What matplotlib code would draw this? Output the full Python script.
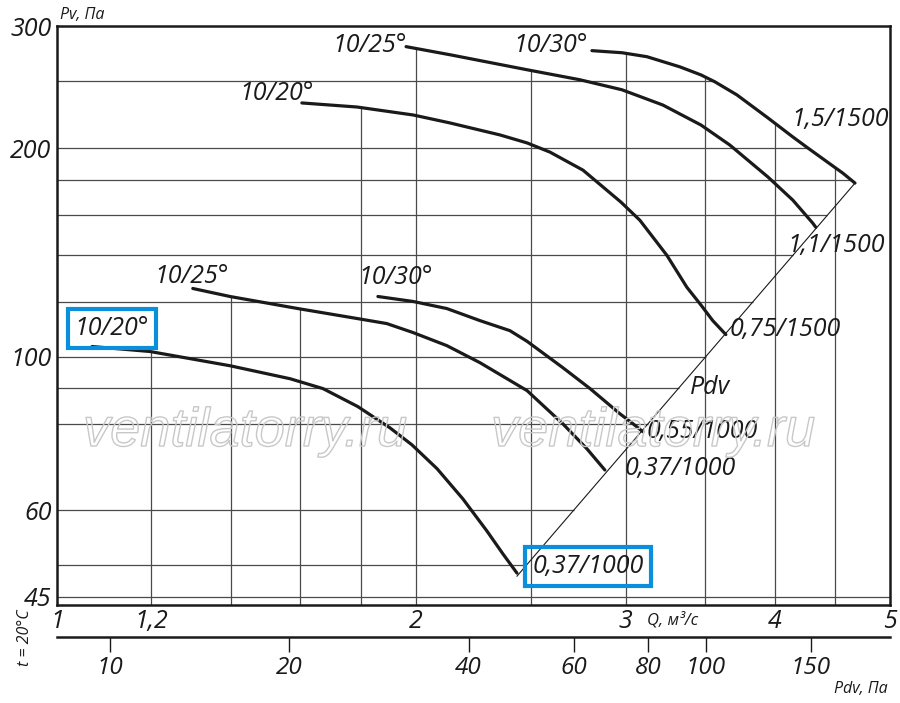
import numpy as np
import matplotlib
matplotlib.use("Agg")
import matplotlib.pyplot as plt
from matplotlib import patheffects as pe
from matplotlib.ticker import NullLocator, FixedLocator, FixedFormatter

plt.rcParams['font.family'] = ['Open Sans', 'DejaVu Sans']
plt.rcParams['font.style'] = 'italic'

# ---------------- data ----------------
# lower group (n = 1000)
q_a = [1.070, 1.197, 1.397, 1.569, 1.672, 1.788, 1.903, 1.985, 2.084, 2.191, 2.295, 2.367, 2.432]
pv_a = [103.4, 101.7, 97.0, 92.9, 89.9, 84.7, 78.9, 74.6, 68.9, 62.3, 56.0, 51.9, 48.7]

q_b = [1.300, 1.397, 1.593, 1.785, 1.891, 1.990, 2.124, 2.264, 2.480, 2.657, 2.784, 2.882]
pv_b = [125.4, 122.1, 117.3, 113.5, 111.6, 108.3, 103.7, 98.0, 89.3, 80.0, 73.6, 68.6]

q_c = [1.859, 1.990, 2.124, 2.264, 2.399, 2.480, 2.657, 2.801, 2.967, 3.043, 3.102]
pv_c = [122.1, 120.1, 117.3, 112.7, 109.0, 105.2, 96.4, 89.9, 82.7, 80.0, 77.9]

# upper group (n = 1500)
q_d = [1.605, 1.785, 1.990, 2.136, 2.353, 2.480, 2.592, 2.763, 2.973, 3.084, 3.249, 3.377,
       3.470, 3.550, 3.641]
pv_d = [232.3, 229.2, 223.2, 217.4, 208.9, 203.4, 197.3, 185.8, 167.1, 157.3, 140.0, 125.9,
        118.7, 112.7, 107.6]

q_e = [1.963, 2.136, 2.480, 2.747, 2.979, 3.224, 3.470, 3.669, 3.950, 4.144, 4.307, 4.332]
pv_e = [280.1, 272.7, 259.4, 250.9, 242.7, 230.7, 215.9, 202.0, 181.6, 168.2, 155.8, 153.7]

q_f = [2.811, 2.979, 3.126, 3.332, 3.470, 3.565, 3.720, 3.950, 4.144, 4.258, 4.443, 4.564, 4.673]
pv_f = [276.4, 274.5, 270.9, 261.9, 255.0, 249.2, 238.6, 221.0, 207.5, 200.5, 190.2, 184.0, 178.0]

angle_labels = ['10/20°', '10/25°', '10/30°', '10/20°', '10/25°', '10/30°']
motor_labels = ['0,37/1000', '0,37/1000', '0,55/1000', '0,75/1500', '1,1/1500', '1,5/1500']

pdv_coef = 8.15            # Pdv = coef * Q^2
pdv_ticks = [10, 20, 40, 60, 80, 100, 150]

q_ticks = [1, 1.2, 2, 3, 4, 5]
q_tick_labels = ['1', '1,2', '2', '3', '4', '5']
pv_ticks = [45, 60, 100, 200, 300]
pv_tick_labels = ['45', '60', '100', '200', '300']

q_grid = [1.2, 1.4, 1.6, 1.8, 2, 2.5, 3, 3.5, 4, 4.5]
pv_grid = [45, 50, 60, 80, 90, 100, 120, 140, 160, 180, 200, 250]

# ---------------- figure ----------------
W, H = 900, 703
fig = plt.figure(figsize=(W / 100, H / 100), dpi=100)
fig.patch.set_facecolor('white')

def fx(px):
    return px / W

def fy(py):
    return 1 - py / H

L, R, T, B = 57, 890, 26, 605
ax = fig.add_axes([fx(L), fy(B), (R - L) / W, (B - T) / H])
ax.set_xscale('log')
ax.set_yscale('log')
ax.set_xlim(1, 5)
ax.set_ylim(43.8, 300)

for s in ax.spines.values():
    s.set_linewidth(1.8)
    s.set_color('#1a1a1a')

ax.xaxis.set_minor_locator(NullLocator())
ax.yaxis.set_minor_locator(NullLocator())
ax.xaxis.set_major_locator(FixedLocator(q_ticks))
ax.xaxis.set_major_formatter(FixedFormatter(q_tick_labels))
ax.yaxis.set_major_locator(FixedLocator(pv_ticks))
ax.yaxis.set_major_formatter(FixedFormatter(pv_tick_labels))
ax.tick_params(axis='both', length=0, labelsize=18, colors='#1a1a1a')
ax.tick_params(axis='x', pad=3)
ax.tick_params(axis='y', pad=4)
for lab in ax.get_xticklabels() + ax.get_yticklabels():
    lab.set_fontstyle('italic')

curves = [(q_a, pv_a), (q_b, pv_b), (q_c, pv_c), (q_d, pv_d), (q_e, pv_e), (q_f, pv_f)]

# ---- clipped grid ----
def curve_at(lq_val, qs, ps):
    lq = np.log10(qs)
    if lq_val < lq[0] - 1e-9 or lq_val > lq[-1] + 1e-9:
        return None
    return 10 ** np.interp(lq_val, lq, np.log10(ps))

ylo = ax.get_ylim()[0]
for qg in q_grid:
    tops = [curve_at(np.log10(qg), qs, ps) for qs, ps in curves]
    tops = [t for t in tops if t is not None]
    top = max(tops) if tops else ax.get_ylim()[1]
    ax.vlines(qg, ylo, top, colors='#4a4a4a', linewidth=0.9, zorder=1)

q_diag_lo, q_diag_hi = q_a[-1], q_f[-1]
pv_diag_lo = pdv_coef * q_diag_lo ** 2
pv_f_end = pv_f[-1]
for pg in pv_grid:
    if pg > pv_f_end:
        lq = np.log10(q_f)[::-1]
        lp = np.log10(pv_f)[::-1]
        right = 10 ** np.interp(np.log10(pg), lp, lq)
    elif pg >= pv_diag_lo:
        right = np.sqrt(pg / pdv_coef)
    else:
        right = ax.get_xlim()[1]
    ax.hlines(pg, 1, right, colors='#4a4a4a', linewidth=0.9, zorder=1)

# ---- watermark ----
for cx in (245, 653):
    fig.text(fx(cx), fy(432), 'ventilatorry.ru', fontsize=39, family='Liberation Sans',
             style='italic', color='none', ha='center', va='center', zorder=2,
             path_effects=[pe.Stroke(linewidth=1.0, foreground='#c8c8c8')])

# ---- Pdv diagonal ----
qd = np.array([q_diag_lo, q_diag_hi])
ax.plot(qd, pdv_coef * qd ** 2, color='#1a1a1a', linewidth=0.8, zorder=3)

# ---- curves ----
for qs, ps in curves:
    ax.plot(qs, ps, color='#1a1a1a', linewidth=2.3, solid_capstyle='round',
            solid_joinstyle='round', zorder=4)

# ---- curve labels ----
start_offsets = [(20, 18), (-1, 12), (18, 19), (-25, 9), (-36, 1), (-41, 5)]
end_offsets = [(71, 7), (75, 1), (59, 0), (59, 5), (20, -18), (-15, 64)]
blue = '#0a8fdc'
for i, (qs, ps) in enumerate(curves):
    kw = {}
    if i == 0:
        kw = dict(bbox=dict(boxstyle='square,pad=0.28', fc='none', ec=blue, lw=3))
    ax.annotate(angle_labels[i], xy=(qs[0], ps[0]), xytext=start_offsets[i],
                textcoords='offset pixels', ha='center', va='center', fontsize=18,
                style='italic', color='#1a1a1a', zorder=5, **kw)
    ax.annotate(motor_labels[i], xy=(qs[-1], ps[-1]), xytext=end_offsets[i],
                textcoords='offset pixels', ha='center', va='center', fontsize=18,
                style='italic', color='#1a1a1a', zorder=5, **kw)

# ---- secondary Pdv axis ----
ax2 = fig.add_axes([fx(L), fy(637), (R - L) / W, 1e-5])
ax2.set_xscale('log')
ax2.set_xlim(1, 5)
ax2.set_yticks([])
for side in ('top', 'left', 'right'):
    ax2.spines[side].set_visible(False)
ax2.spines['bottom'].set_linewidth(1.8)
ax2.spines['bottom'].set_color('#1a1a1a')
ax2.patch.set_visible(False)
ax2.xaxis.set_minor_locator(NullLocator())
ax2.xaxis.set_major_locator(FixedLocator([np.sqrt(p / pdv_coef) for p in pdv_ticks]))
ax2.xaxis.set_major_formatter(FixedFormatter([str(p) for p in pdv_ticks]))
ax2.tick_params(axis='x', direction='out', length=11, width=1.0, pad=3,
                labelsize=17.5, colors='#1a1a1a')
for lab in ax2.get_xticklabels():
    lab.set_fontstyle('italic')

# ---- axis texts ----
fig.text(fx(60), fy(15), 'Pv, Па', fontsize=11.5, style='italic', ha='left', va='center',
         color='#1a1a1a')
fig.text(fx(888), fy(689), 'Pdv, Па', fontsize=11.5, style='italic', ha='right', va='center',
         color='#1a1a1a')
fig.text(fx(673), fy(620), 'Q, м³/с', fontsize=12, style='italic', ha='center', va='center',
         color='#1a1a1a')
fig.text(fx(25), fy(638), 't = 20°C', fontsize=11.5, style='italic', ha='center', va='center',
         rotation=90, color='#1a1a1a')
fig.text(fx(710), fy(388), 'Pdv', fontsize=18, style='italic', ha='center', va='center',
         color='#1a1a1a')

fig.savefig('out.png', dpi=100, facecolor='white')
